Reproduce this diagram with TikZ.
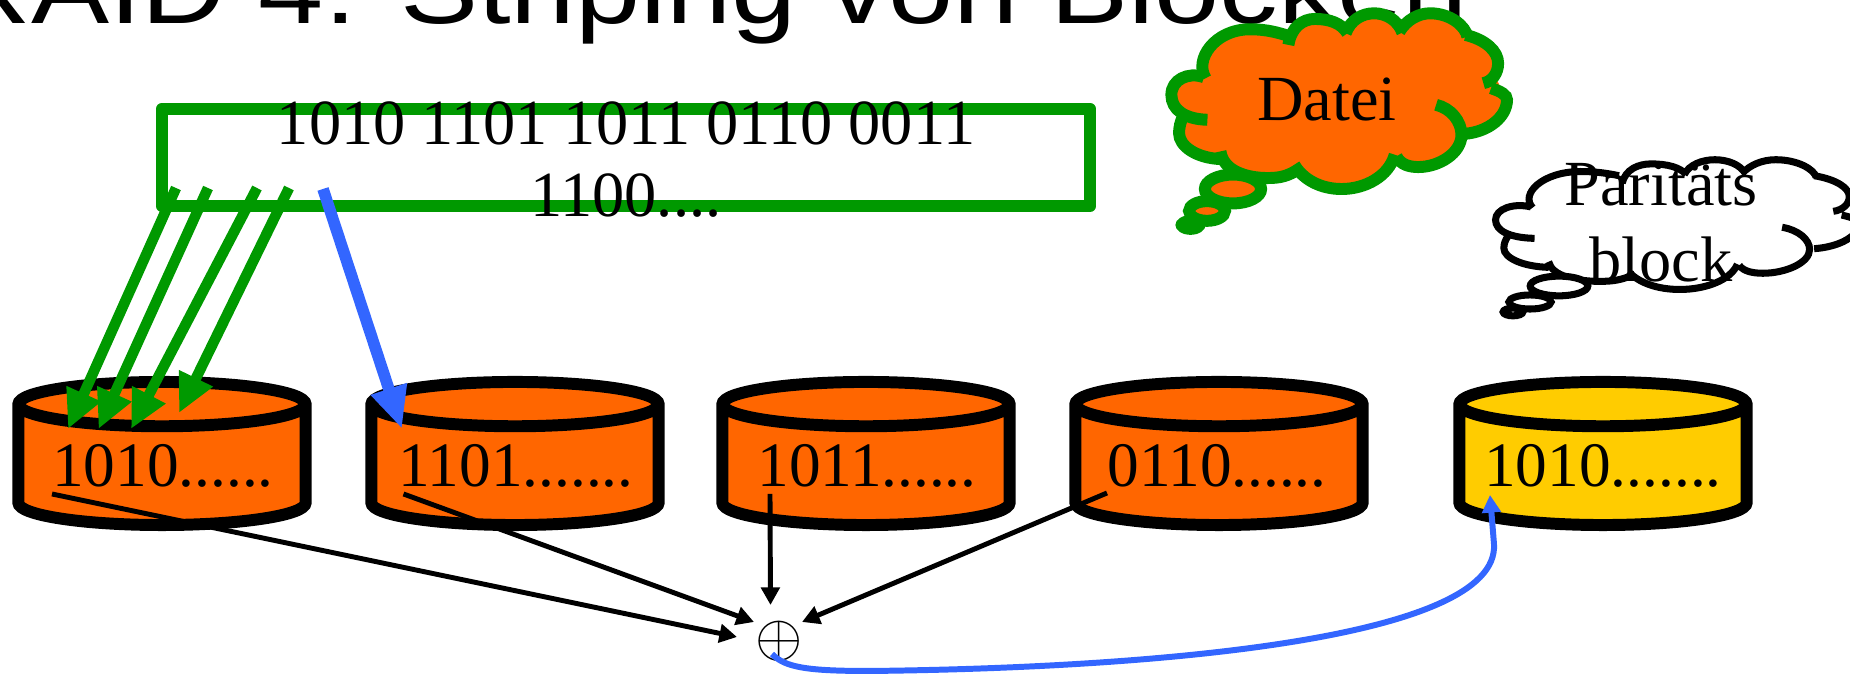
\documentclass[tikz,border=0pt]{standalone}
\usepackage{fontspec}
\setmainfont{Liberation Serif}
\newfontfamily\headfont{Liberation Sans}
\usetikzlibrary{arrows.meta}
\usetikzlibrary{shapes.geometric}

\definecolor{raidgreen}{HTML}{009900}
\definecolor{raidorange}{HTML}{FF6600}
\definecolor{raidyellow}{HTML}{FFCC00}
\definecolor{raidblue}{HTML}{3366FF}

\newcommand{\puffs}{
  (472,232) .. controls (445,215) and (417,240) .. (417,285) .. controls (417,330) and (440,358) .. (478,360)
  (475,235) .. controls (455,180) and (490,88) .. (550,88) .. controls (580,88) and (600,100) .. (610,105)
  (615,135) .. controls (620,80) and (640,57) .. (660,57) .. controls (685,57) and (705,70) .. (715,100)
  (712,100) .. controls (720,60) and (740,40) .. (760,40) .. controls (780,40) and (800,60) .. (808,98)
  (803,95) .. controls (815,60) and (835,40) .. (855,40) .. controls (890,40) and (915,80) .. (918,110)
  (915,105) .. controls (950,120) and (970,155) .. (970,190) .. controls (970,220) and (960,245) .. (945,250)
  (958,265) .. controls (975,275) and (985,285) .. (985,300) .. controls (985,350) and (955,395) .. (915,402)
  (865,315) .. controls (890,325) and (908,365) .. (908,405) .. controls (908,460) and (870,502) .. (835,502) .. controls (820,502) and (805,495) .. (798,470)
  (795,465) .. controls (785,530) and (745,568) .. (705,568) .. controls (670,568) and (640,540) .. (625,495)
  (635,505) .. controls (615,530) and (600,535) .. (580,535) .. controls (545,535) and (505,515) .. (500,455)
  (500,478) .. controls (460,475) and (430,440) .. (430,400) .. controls (430,385) and (432,365) .. (437,350)
}
\newcommand{\puffcore}{
  (465,218) -- (610,95) -- (712,85) -- (805,72) -- (918,105) -- (965,230) -- (985,300) -- (915,402) -- (795,485) -- (628,510) -- (497,475) -- (432,352) -- cycle
}
\newcommand{\diskgap}{\phantom{1010......}}

\tikzset{
  bitstext/.style={font=\fontsize{18.3}{20.5}\selectfont, align=center, inner sep=0pt},
  disktext/.style={font=\fontsize{18}{20.5}\selectfont, inner sep=0pt, anchor=base},
  disk/.style={cylinder, shape border rotate=90, aspect=0.2, draw=black, line width=3.4pt,
    minimum width=2.87cm, minimum height=1.43cm, inner sep=0pt, outer sep=0pt, anchor=shape center,
    cylinder uses custom fill, cylinder body fill=#1, cylinder end fill=#1,
    font=\fontsize{18}{20.5}\selectfont},
  greenarrow/.style={draw=raidgreen, line width=3pt, -{Triangle[length=11pt,width=10pt]}},
  bluearrow/.style={draw=raidblue, line width=3.3pt, -{Triangle[length=12pt,width=10pt]}},
  xorarrow/.style={draw=black, line width=1.4pt, -{Triangle[length=5pt,width=5.2pt]}},
  resultarrow/.style={draw=raidblue, line width=1.7pt, -{Triangle[length=5pt,width=5.2pt]}}
}

\begin{document}
\begin{tikzpicture}[x=0.01cm,y=-0.01cm]
\useasboundingbox (0,0) rectangle (1850,674);
\clip (0,0) rectangle (1850,674);

\node[anchor=base west, inner sep=0pt, yscale=0.85, font=\headfont\fontsize{33.3}{36}\selectfont] (title) at (-54,24) {RAID 4: Striping von Blöcken};

\node[draw=raidgreen, line width=3.4pt, line join=round, minimum width=9.28cm, minimum height=0.97cm, outer sep=0pt] (stripe) at (626,157.5) {};
\node[bitstext] (bits) at (626,160) {1010 1101 1011 0110 0011\\1100....};

\node[disk=raidorange] (disk1) at (162,453.5) {\diskgap};
\node[disk=raidorange] (disk2) at (515,453.5) {\diskgap};
\node[disk=raidorange] (disk3) at (866,453.5) {\diskgap};
\node[disk=raidorange] (disk4) at (1219,453.5) {\diskgap};
\node[disk=raidyellow] (disk5) at (1603,453.5) {\diskgap};
\node[disktext] (bitsA) at (163,487) {1010......};
\node[disktext] (bitsB) at (516,487) {1101.......};
\node[disktext] (bitsC) at (867,487) {1011......};
\node[disktext] (bitsD) at (1217,487) {0110......};
\node[disktext] (bitsE) at (1603,487) {1010.......};

\node[font=\fontsize{18}{20}\selectfont, inner sep=0pt] (xor) at (779,641) {$\oplus$};

\path (stripe) +(-450,30.5) coordinate (outA);
\path (stripe) +(-418,30.5) coordinate (outB);
\path (stripe) +(-369,30.5) coordinate (outC);
\path (stripe) +(-337,30.5) coordinate (outD);
\path (stripe) +(-303,31.5) coordinate (outE);
\path (disk1.shape center) +(-94,-24.5) coordinate (inA);
\path (disk1.shape center) +(-63.5,-24.5) coordinate (inB);
\path (disk1.shape center) +(-31,-24.5) coordinate (inC);
\path (disk1.shape center) +(17,-40.5) coordinate (inD);
\path (disk2.shape center) +(-113,-24.5) coordinate (inE);

\draw[greenarrow] (outA) -- (inA);
\draw[greenarrow] (outB) -- (inB);
\draw[greenarrow] (outC) -- (inC);
\draw[greenarrow] (outD) -- (inD);
\draw[bluearrow] (outE) -- (inE);

\path (bitsA.base) +(-111,7) coordinate (parA);
\path (bitsB.base) +(-112.5,7) coordinate (parB);
\path (bitsC.base) +(-97,7) coordinate (parC);
\path (bitsD.base) +(-110,6) coordinate (parD);
\path (bitsE.base) +(-113,8) coordinate (parE);
\path (xor) +(-42,-4) coordinate (xorA);
\path (xor) +(-25,-19) coordinate (xorB);
\path (xor) +(-8.5,-36) coordinate (xorC);
\path (xor) +(23,-19) coordinate (xorD);
\path (xor) +(-7,13) coordinate (xorE);

\draw[xorarrow] (parA) -- (xorA);
\draw[xorarrow] (parB) -- (xorB);
\draw[xorarrow] (parC) -- (xorC);
\draw[xorarrow] (parD) -- (xorD);
\draw[resultarrow] (xorE) .. controls (785,668) and (810,671) .. (870,671) .. controls (1150,668) and (1500,640) .. (1494,544) -- (parE);

\begin{scope}[shift={(925,0)},x=0.0059cm,y=-0.00333cm]
\fill[raidorange] \puffs;
\fill[raidorange] \puffcore;
\draw[raidgreen, line width=3.4pt] \puffs;
\end{scope}
\draw[raidgreen, fill=raidorange, line width=3.4pt] (1233,189) ellipse [x radius=8pt, y radius=4.1pt];
\draw[raidgreen, fill=raidorange, line width=3.4pt] (1207,211) ellipse [x radius=5.1pt, y radius=2.8pt];
\fill[raidgreen] (1190.5,225) ellipse [x radius=4.3pt, y radius=2.8pt];
\node[bitstext] (file) at (1327,100) {Datei};

\begin{scope}[shift={(1228.8,149.9)},x=0.0064cm,y=-0.00245cm]
\draw[black, line width=2pt] \puffs;
\end{scope}
\draw[black, fill=white, line width=2pt] (1559,286) ellipse [x radius=8.2pt, y radius=2.8pt];
\draw[black, fill=white, line width=2pt] (1530,302) ellipse [x radius=6pt, y radius=2pt];
\draw[black, fill=white, line width=2pt] (1513,312) ellipse [x radius=2.8pt, y radius=1.1pt];
\node[font=\fontsize{18.3}{21.6}\selectfont, align=center, inner sep=0pt] (parity) at (1661,223) {Paritäts\\block};
\end{tikzpicture}
\end{document}
